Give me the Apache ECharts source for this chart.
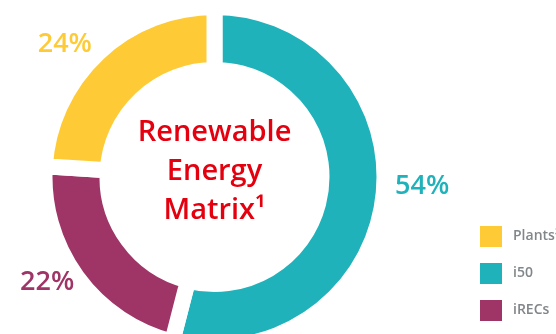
<!DOCTYPE html>
<html>
<head>
<meta charset="utf-8">
<script src="https://cdn.jsdelivr.net/npm/echarts@6/dist/echarts.min.js"></script>
<style>
html,body{margin:0;padding:0;background:#fff;}
#chart{width:556px;height:334px;}
</style>
</head>
<body>
<div id="chart"></div>
<script>
const categories = ['i50', 'iRECs', 'Plants²'];
const values = [54, 22, 24];
const colors = ['#20B2BA', '#9E3566', '#FECB36'];
const legendOrder = ['Plants²', 'i50', 'iRECs'];
const centerTitle = 'Renewable\nEnergy\nMatrix¹';
const labelNudge = [[0, -13], [7, -2], [2, 0]];

const chart = echarts.init(document.getElementById('chart'), null, {renderer: 'canvas'});
const FONT = '"Open Sans", "Noto Sans", sans-serif';

chart.setOption({
  animation: false,
  backgroundColor: '#ffffff',
  legend: {
    orient: 'vertical',
    left: 478,
    top: 224,
    padding: 0,
    itemWidth: 24,
    itemHeight: 23,
    itemGap: 12,
    icon: 'rect',
    data: legendOrder,
    selectedMode: false,
    textStyle: {
      color: '#80868a',
      fontFamily: FONT,
      fontWeight: 600,
      fontSize: 14,
      padding: [0, 0, 0, 5]
    }
  },
  graphic: [{
    type: 'text',
    x: 214.5,
    y: 172,
    style: {
      text: centerTitle,
      fill: '#e4000f',
      font: '600 29px ' + FONT,
      lineHeight: 39,
      align: 'center',
      verticalAlign: 'middle'
    }
  }],
  series: [{
    type: 'pie',
    center: [214.5, 177],
    radius: [107, 170],
    startAngle: 90,
    clockwise: true,
    avoidLabelOverlap: false,
    silent: true,
    itemStyle: {
      borderColor: '#ffffff',
      borderWidth: 16
    },
    label: {
      show: true,
      position: 'outside',
      distanceToLabelLine: 0,
      formatter: '{c}%',
      fontFamily: FONT,
      fontWeight: 600,
      fontSize: 27
    },
    labelLine: {show: false, length: 12, length2: 0},
    labelLayout: function (p) {
      const n = labelNudge[p.dataIndex];
      return {dx: n[0], dy: n[1]};
    },
    data: categories.map(function (c, i) {
      return {
        name: c,
        value: values[i],
        itemStyle: {color: colors[i]},
        label: {color: colors[i]}
      };
    })
  }]
});
</script>
</body>
</html>
